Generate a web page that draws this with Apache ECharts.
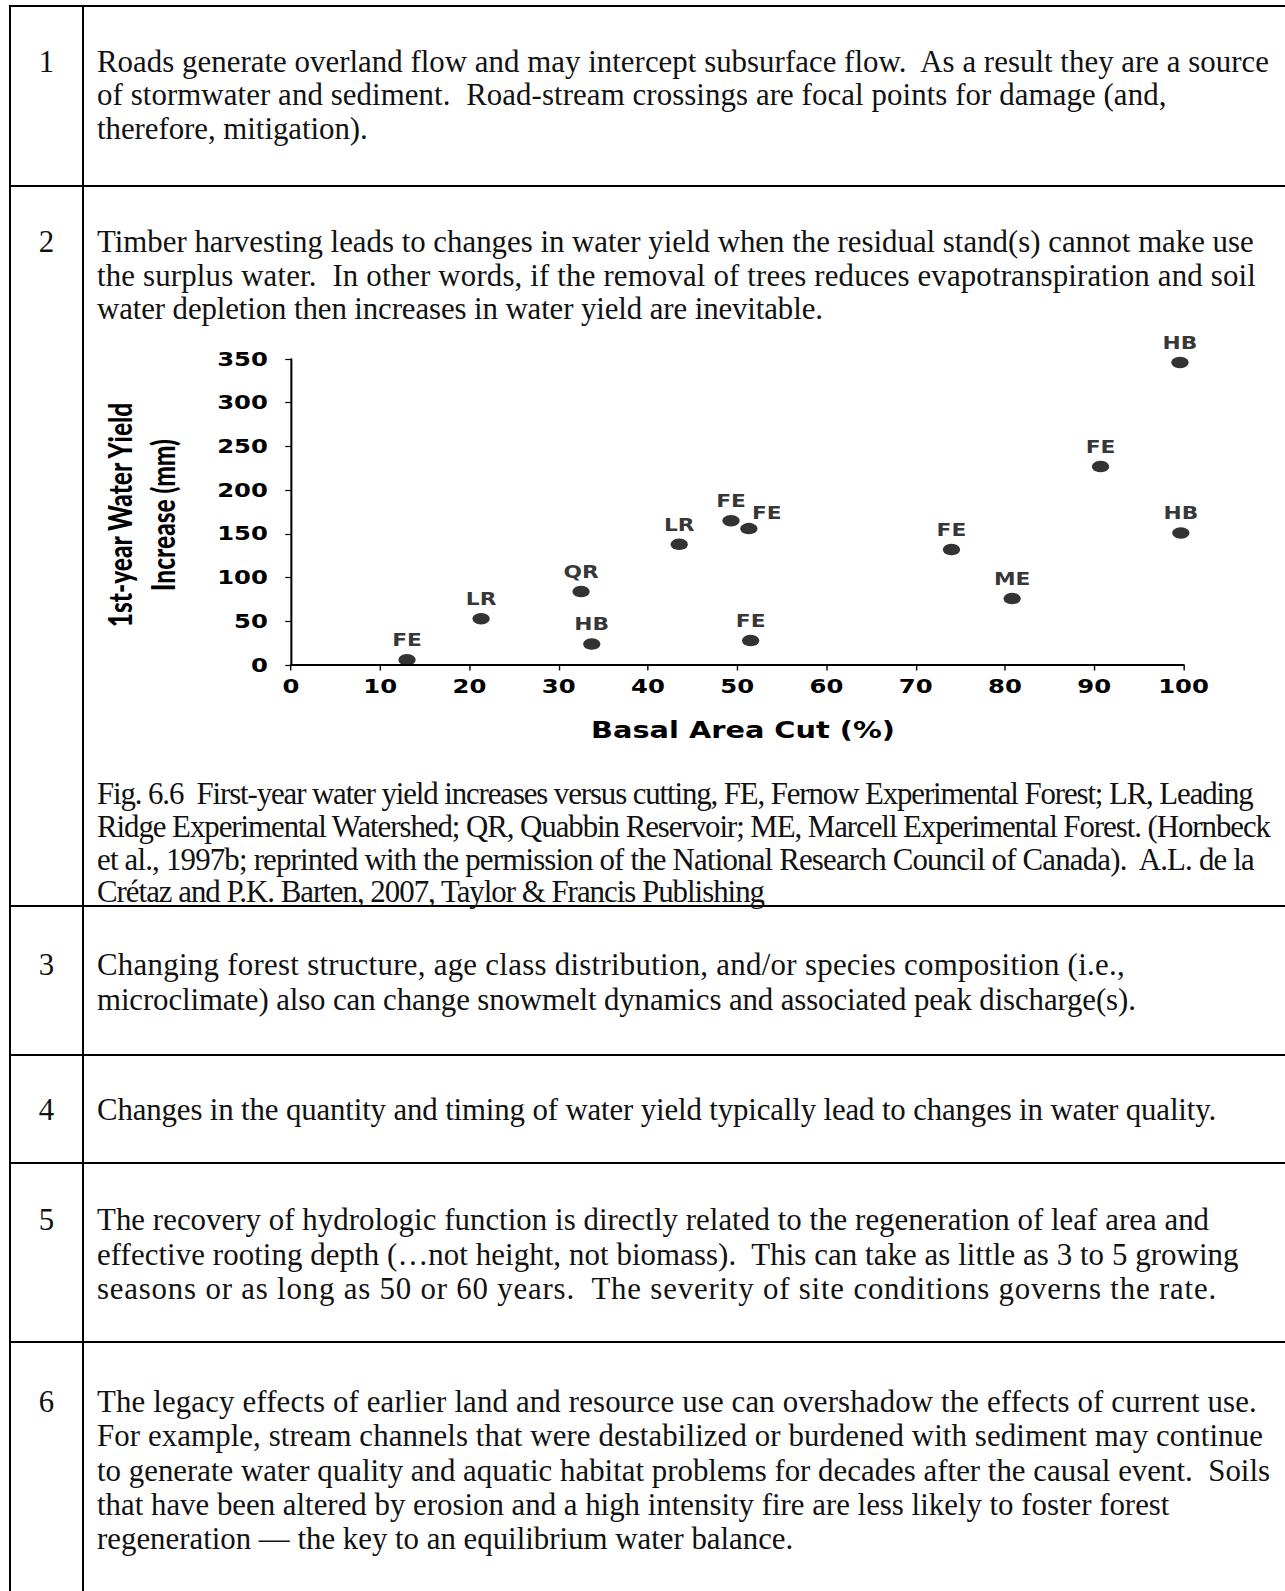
<!DOCTYPE html>
<html>
<head>
<meta charset="utf-8">
<script src="https://cdn.jsdelivr.net/npm/echarts/dist/echarts.min.js"></script>
<style>
  html, body { margin: 0; padding: 0; background: #fff; }
  body { position: relative; width: 1285px; height: 1591px; overflow: hidden; }
  .hl { position: absolute; left: 9px; right: 0; height: 2px; background: #000; }
  .vl { position: absolute; top: 5px; height: 1590px; width: 2px; background: #000; }
  .ln { position: absolute; left: 97px; white-space: pre; font-family: 'Liberation Serif', serif; color: #111; line-height: 34px; height: 34px; }
  .num { position: absolute; left: 10px; width: 73px; text-align: center; font-family: 'Liberation Serif', serif; color: #111; line-height: 34px; }
  #chart { position: absolute; left: 20px; top: 300px; width: 977px; height: 460px; transform: scaleX(1.28); transform-origin: 0 0; }
</style>
</head>
<body>
<div class="hl" style="top:5px"></div>
<div class="hl" style="top:185px"></div>
<div class="hl" style="top:905px"></div>
<div class="hl" style="top:1054px"></div>
<div class="hl" style="top:1162px"></div>
<div class="hl" style="top:1341px"></div>
<div class="vl" style="left:9px"></div>
<div class="vl" style="left:82px"></div>
<div id="text"></div>
<div id="chart"></div>
<script>
// ---- table text ----
const rowNumbers = ['1', '2', '3', '4', '5', '6'];
const row1 = [
  'Roads generate overland flow and may intercept subsurface flow.  As a result they are a source',
  'of stormwater and sediment.  Road-stream crossings are focal points for damage (and,',
  'therefore, mitigation).'
];
const row2 = [
  'Timber harvesting leads to changes in water yield when the residual stand(s) cannot make use',
  'the surplus water.  In other words, if the removal of trees reduces evapotranspiration and soil',
  'water depletion then increases in water yield are inevitable.'
];
const caption = [
  'Fig. 6.6  First-year water yield increases versus cutting, FE, Fernow Experimental Forest; LR, Leading',
  'Ridge Experimental Watershed; QR, Quabbin Reservoir; ME, Marcell Experimental Forest. (Hornbeck',
  'et al., 1997b; reprinted with the permission of the National Research Council of Canada).  A.L. de la',
  'Crétaz and P.K. Barten, 2007, Taylor & Francis Publishing'
];
const row3 = [
  'Changing forest structure, age class distribution, and/or species composition (i.e.,',
  'microclimate) also can change snowmelt dynamics and associated peak discharge(s).'
];
const row4 = [
  'Changes in the quantity and timing of water yield typically lead to changes in water quality.'
];
const row5 = [
  'The recovery of hydrologic function is directly related to the regeneration of leaf area and',
  'effective rooting depth (\u2026not height, not biomass).  This can take as little as 3 to 5 growing',
  'seasons or as long as 50 or 60 years.  The severity of site conditions governs the rate.'
];
const row6 = [
  'The legacy effects of earlier land and resource use can overshadow the effects of current use.',
  'For example, stream channels that were destabilized or burdened with sediment may continue',
  'to generate water quality and aquatic habitat problems for decades after the causal event.  Soils',
  'that have been altered by erosion and a high intensity fire are less likely to foster forest',
  'regeneration \u2014 the key to an equilibrium water balance.'
];

// ---- chart data ----
const siteLabels = ['FE', 'LR', 'QR', 'HB', 'LR', 'FE', 'FE', 'FE', 'FE', 'ME', 'FE', 'HB', 'HB'];
const basalAreaCut = [13, 21.3, 32.5, 33.7, 43.5, 49.3, 51.3, 51.5, 74, 80.8, 90.7, 99.6, 99.7];
const yieldIncrease = [6, 53, 84, 24, 138, 165, 156, 28, 132, 76, 227, 346, 151];
const xTickMin = 0, xTickMax = 100, xTickStep = 10;
const yTickMin = 0, yTickMax = 350, yTickStep = 50;

// layout of text blocks: centre of first line, line pitch, right edge of each line
const blocks = [
  { lines: row1, c: 65, p: 33.3, r: [1249, 1148, 362], num: rowNumbers[0] },
  { lines: row2, c: 245, p: 33.6, r: [1234, 1236, 810], num: rowNumbers[1] },
  { lines: caption, c: 797, p: 32.8, r: [1234, 1251, 1235, 753] },
  { lines: row3, c: 968, p: 35, r: [1107, 1118], num: rowNumbers[2] },
  { lines: row4, c: 1113, p: 34, r: [1197], num: rowNumbers[3] },
  { lines: row5, c: 1223, p: 34.6, r: [1190, 1219, 1197], num: rowNumbers[4] },
  { lines: row6, c: 1405, p: 34.3, r: [1237, 1243, 1250, 1151, null], num: rowNumbers[5] }
];

const host = document.getElementById('text');
const measure = document.createElement('span');
measure.className = 'ln';
measure.style.visibility = 'hidden';
document.body.appendChild(measure);
function widthAt(s, size) { measure.style.fontSize = size + 'px'; measure.textContent = s; return measure.getBoundingClientRect().width; }
const fs = 100 * (1170 / widthAt(row1[0], 100) + 1171 / widthAt(row6[2], 100)) / 2;

blocks.forEach(b => {
  b.lines.forEach((t, i) => {
    const d = document.createElement('div');
    d.className = 'ln';
    d.style.fontSize = fs + 'px';
    d.style.top = (b.c + i * b.p - 20) + 'px';
    const target = b.r[i];
    if (target) {
      const w = widthAt(t, fs);
      d.style.letterSpacing = ((target * 1.016 - 97 - w) / (t.length - 1)) + 'px';
    }
    d.textContent = t;
    host.appendChild(d);
  });
  if (b.num) {
    const n = document.createElement('div');
    n.className = 'num';
    n.style.fontSize = fs + 'px';
    n.style.top = (b.c - 20) + 'px';
    n.textContent = b.num;
    host.appendChild(n);
  }
});
measure.remove();

// ---- chart ----
const chart = echarts.init(document.getElementById('chart'), null, { renderer: 'svg' });
const sans = 'DejaVu Sans';
const points = basalAreaCut.map((x, i) => {
  const item = { value: [x, yieldIncrease[i]], name: siteLabels[i] };
  if (i === 6) item.label = { position: 'inside', offset: [14, -15] };
  return item;
});
chart.setOption({
  animation: false,
  grid: { left: 211.7, right: 68, top: 59, bottom: 95, containLabel: false, outerBoundsMode: 'none' },
  xAxis: {
    type: 'value', min: xTickMin, max: xTickMax, interval: xTickStep,
    axisLine: { show: true, lineStyle: { color: '#000', width: 2 } },
    axisTick: { show: true, length: 5.5, lineStyle: { color: '#000', width: 1.1 } },
    splitLine: { show: false },
    axisLabel: { fontFamily: sans, fontWeight: 'bold', fontSize: 19, color: '#000', margin: 12 },
    name: 'Basal Area Cut (%)', nameLocation: 'middle', nameGap: 54,
    nameTextStyle: { fontFamily: sans, fontWeight: 'bold', fontSize: 22.5, color: '#000', padding: [0, 0, 0, 9] }
  },
  yAxis: {
    type: 'value', min: yTickMin, max: yTickMax, interval: yTickStep,
    axisLine: { show: true, lineStyle: { color: '#000', width: 1.6 } },
    axisTick: { show: true, length: 4.5, lineStyle: { color: '#000', width: 1.2 } },
    splitLine: { show: false },
    axisLabel: { fontFamily: sans, fontWeight: 'bold', fontSize: 19, color: '#000', margin: 18 },
    name: '1st-year Water Yield\nIncrease (mm)', nameLocation: 'middle', nameRotate: 90, nameGap: 83,
    nameTextStyle: { fontFamily: 'Lato', fontWeight: 900, fontSize: 24.5, lineHeight: 34, color: '#000', padding: [0, 6, 0, 0] }
  },
  series: [{
    type: 'scatter',
    data: points,
    symbol: 'circle',
    symbolSize: [13.5, 11.5],
    itemStyle: { color: '#000' },
    label: {
      show: true, position: 'top', distance: 5,
      formatter: p => p.name,
      fontFamily: sans, fontWeight: 'bold', fontSize: 17, color: '#000'
    }
  }]
});
</script>
</body>
</html>
